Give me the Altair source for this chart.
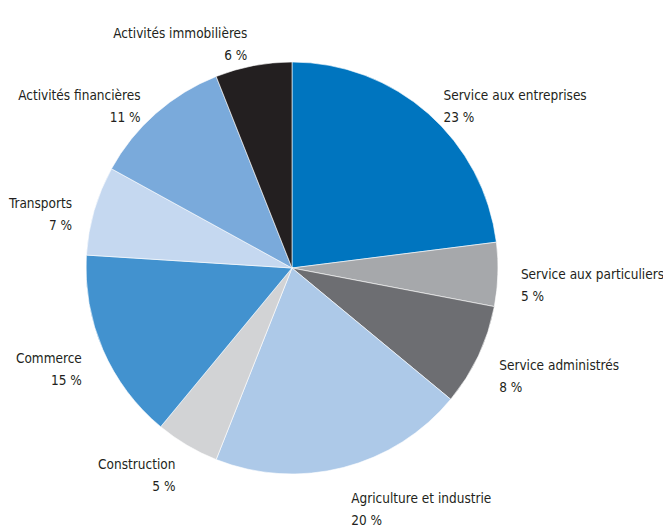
import altair as alt
import pandas as pd

categories = [
    "Service aux entreprises",
    "Service aux particuliers",
    "Service administrés",
    "Agriculture et industrie",
    "Construction",
    "Commerce",
    "Transports",
    "Activités financières",
    "Activités immobilières",
]
values = [23, 5, 8, 20, 5, 15, 7, 11, 6]
colors = ["#0075bf", "#a6a8ab", "#6d6e72", "#adc9e8", "#d2d3d5",
          "#4292cf", "#c5d8f0", "#7aaadb", "#231f20"]

cum = []
s = 0
for v in values:
    cum.append(s + v / 2)
    s += v

df = pd.DataFrame({
    "cat": categories,
    "value": values,
    "order": list(range(len(categories))),
    "mid": cum,
    "label": [[c, f"{v} %"] for c, v in zip(categories, values)],
})
df["side"] = ["right" if m < 50 else "left" for m in df["mid"]]

theta_scale = alt.Scale(domain=[0, 100])

base = alt.Chart(df).transform_calculate(
    vert="abs(cos(datum.mid / 100 * 2 * PI)) > 0.9"
)

arcs = alt.Chart(df).mark_arc(outerRadius=206, stroke="white", strokeWidth=0.6).encode(
    theta=alt.Theta("value:Q", stack=True, scale=theta_scale),
    order=alt.Order("order:Q"),
    color=alt.Color("cat:N", scale=alt.Scale(domain=categories, range=colors), legend=None),
)

text_style = dict(font="'DejaVu Sans Condensed', 'Roboto Condensed', Roboto, sans-serif",
                  fontSize=13.5, color="#231f20", baseline="middle", lineHeight=22)


def labels(side, vert, radius):
    return base.transform_filter(
        (alt.datum.side == side) & (alt.datum.vert == vert)
    ).mark_text(
        align="left" if side == "right" else "right", radius=radius, **text_style
    ).encode(
        theta=alt.Theta("mid:Q", stack=None, scale=theta_scale),
        text="label",
    )


layers = [arcs,
          labels("right", False, 229), labels("left", False, 229),
          labels("right", True, 238), labels("left", True, 238)]

chart = alt.layer(*layers).properties(
    width=584, height=520,
    autosize=alt.AutoSizeParams(type="none"),
    padding={"left": 0, "top": 8, "right": 79, "bottom": 0},
).configure_view(stroke=None)

chart.save("out.html", embed_options={"renderer": "svg", "actions": False})
